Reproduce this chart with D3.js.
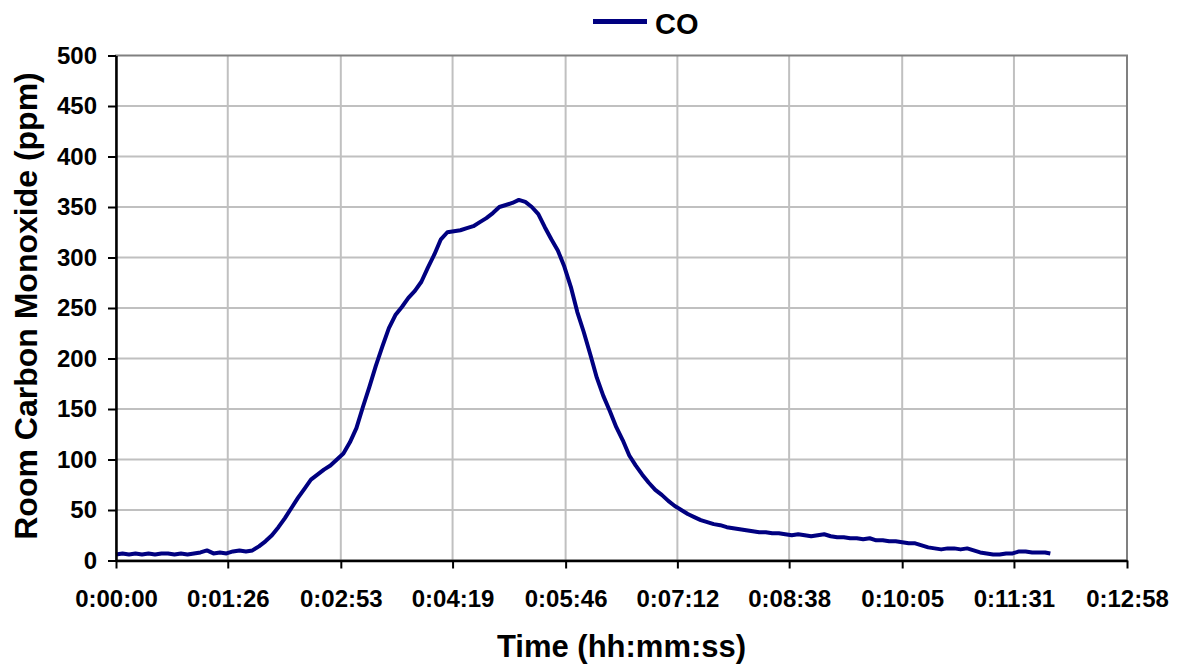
<!DOCTYPE html>
<html>
<head>
<meta charset="utf-8">
<script src="https://cdn.jsdelivr.net/npm/d3@7"></script>
<style>
  body { margin: 0; background: #fff; }
  svg { display: block; font-family: "Liberation Sans", Arial, sans-serif; font-weight: bold; }
</style>
</head>
<body>
<svg width="1183" height="665"></svg>
<script>
// time in seconds since start, CO in ppm
const seconds = [
  0, 5, 10, 15, 20, 25, 30, 35, 40, 45, 50, 55, 60, 65, 70, 75, 80, 85, 90, 95,
  100, 105, 110, 115, 120, 125, 130, 135, 140, 145, 150, 155, 160, 165, 170, 175, 180, 185, 190, 195,
  200, 205, 210, 215, 220, 225, 230, 235, 240, 245, 250, 255, 260, 265, 270, 275, 280, 285, 290, 295,
  300, 305, 310, 315, 320, 325, 330, 335, 340, 345, 350, 355, 360, 365, 370, 375, 380, 385, 390, 395,
  400, 405, 410, 415, 420, 425, 430, 435, 440, 445, 450, 455, 460, 465, 470, 475, 480, 485, 490, 495,
  500, 505, 510, 515, 520, 525, 530, 535, 540, 545, 550, 555, 560, 565, 570, 575, 580, 585, 590, 595,
  600, 605, 610, 615, 620, 625, 630, 635, 640, 645, 650, 655, 660, 665, 670, 675, 680, 685, 690, 695,
  700, 705, 710, 715, 719];
const co = [
  6, 7, 6, 7, 6, 7, 6, 7, 7, 6, 7, 6, 7, 8, 10, 7, 8, 7, 9, 10,
  9, 10, 14, 19, 25, 33, 42, 52, 62, 71, 80, 85, 90, 94, 100, 106, 117, 131, 152, 172,
  193, 212, 230, 243, 251, 260, 267, 276, 290, 303, 318, 325, 326, 327, 329, 331, 335, 339, 344, 350,
  352, 354, 357, 355, 350, 343, 330, 318, 307, 291, 271, 246, 226, 204, 181, 163, 148, 132, 119, 104,
  94, 85, 77, 70, 65, 59, 54, 50, 46, 43, 40, 38, 36, 35, 33, 32, 31, 30, 29, 28,
  28, 27, 27, 26, 25, 26, 25, 24, 25, 26, 24, 23, 23, 22, 22, 21, 22, 20, 20, 19,
  19, 18, 17, 17, 15, 13, 12, 11, 12, 12, 11, 12, 10, 8, 7, 6, 6, 7, 7, 9,
  9, 8, 8, 8, 7];

const xTickLabels = ['0:00:00', '0:01:26', '0:02:53', '0:04:19', '0:05:46', '0:07:12', '0:08:38', '0:10:05', '0:11:31', '0:12:58'];
const yTicks = [0, 50, 100, 150, 200, 250, 300, 350, 400, 450, 500];
const seriesName = 'CO';

const toSec = s => s.split(':').reduce((a, b) => a * 60 + (+b), 0);
const xTickValues = xTickLabels.map(toSec);

const svg = d3.select('svg');
const plotL = 116, plotR = 1127, plotT = 55.5, plotB = 560.5;

const x = d3.scaleLinear().domain([0, d3.max(xTickValues)]).range([plotL, plotR]);
const y = d3.scaleLinear().domain([0, 500]).range([plotB, plotT]);

// grid
svg.append('g').selectAll('line').data(yTicks.slice(1, -1))
  .enter().append('line')
    .attr('x1', plotL).attr('x2', plotR)
    .attr('y1', d => y(d)).attr('y2', d => y(d))
    .attr('stroke', '#c0c0c0').attr('stroke-width', 2);
svg.append('g').selectAll('line').data(xTickValues.slice(1, -1))
  .enter().append('line')
    .attr('x1', d => x(d)).attr('x2', d => x(d))
    .attr('y1', plotT).attr('y2', plotB)
    .attr('stroke', '#c0c0c0').attr('stroke-width', 2);

// plot border (top / right grey)
svg.append('rect')
  .attr('x', plotL).attr('y', plotT)
  .attr('width', plotR - plotL).attr('height', plotB - plotT)
  .attr('fill', 'none').attr('stroke', '#808080').attr('stroke-width', 2);

// series
const line = d3.line().x((d, i) => x(seconds[i])).y(d => y(d));
svg.append('path')
  .datum(co)
  .attr('d', line)
  .attr('fill', 'none')
  .attr('stroke', '#000080')
  .attr('stroke-width', 4)
  .attr('stroke-linejoin', 'round');

// axes
const xAxis = svg.append('g')
  .attr('transform', `translate(0,${plotB})`)
  .call(d3.axisBottom(x).tickValues(xTickValues).tickFormat((d, i) => xTickLabels[i]).tickSize(8).tickSizeOuter(0));
xAxis.selectAll('text').attr('y', 46).attr('dy', 0);

const yAxis = svg.append('g')
  .attr('transform', `translate(${plotL},0)`)
  .call(d3.axisLeft(y).tickValues(yTicks).tickSize(8).tickPadding(11).tickSizeOuter(0));

svg.selectAll('.domain').attr('stroke', '#000').attr('stroke-width', 2.5);
svg.selectAll('.tick line').attr('stroke', '#000').attr('stroke-width', 2);
svg.selectAll('.tick text')
  .attr('fill', '#000')
  .style('font-size', '24px')
  .style('font-family', '"Liberation Sans", Arial, sans-serif')
  .style('font-weight', 'bold');

// titles
svg.append('text')
  .attr('x', 621.5).attr('y', 657)
  .attr('text-anchor', 'middle')
  .style('font-size', '31px')
  .text('Time (hh:mm:ss)');

svg.append('text')
  .attr('transform', 'translate(37,306) rotate(-90)')
  .attr('text-anchor', 'middle')
  .style('font-size', '32px')
  .text('Room Carbon Monoxide (ppm)');

// legend
svg.append('line')
  .attr('x1', 593).attr('x2', 647)
  .attr('y1', 21.5).attr('y2', 21.5)
  .attr('stroke', '#000080').attr('stroke-width', 5);
svg.append('text')
  .attr('x', 655).attr('y', 34)
  .style('font-size', '29px')
  .text(seriesName);
</script>
</body>
</html>
